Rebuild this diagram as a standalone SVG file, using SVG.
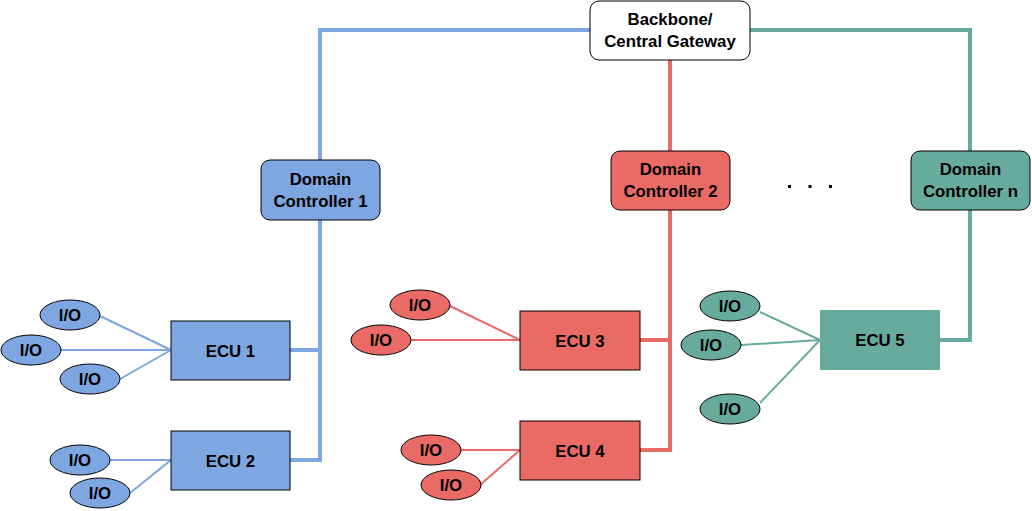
<svg xmlns="http://www.w3.org/2000/svg" width="1032" height="511" viewBox="0 0 1032 511">
<style>
text{font-family:"Liberation Sans",Arial,sans-serif;font-weight:bold;font-size:16.8px;fill:#000;text-anchor:middle}
.b{fill:#7EA6E0}.r{fill:#EA6B66}.g{fill:#67AB9F}
.k{stroke:#000;stroke-width:1}
.lb{stroke:#7EA6E0;fill:none}.lr{stroke:#EA6B66;fill:none}.lg{stroke:#67AB9F;fill:none}
.w4{stroke-width:4}.w2{stroke-width:2}
</style>
<rect width="1032" height="511" fill="#fff"/>
<g id="connectors">
<path class="lb w4" d="M590 30H320V160M320 220V460H290M290 350H320"/>
<path class="lr w4" d="M670 60V151M670 210V450H640M640 340H670"/>
<path class="lg w4" d="M750 30H970V151M970 210V340H940"/>
<path class="lb w2" d="M100 316L171 350M61 350H171M120 379L171 350M110 460H171M130 493L171 460"/>
<path class="lr w2" d="M450 306L520 340M411 340H520M461 450H520M480 485L520 450"/>
<path class="lg w2" d="M760 312L820 340M741 345L820 340M760 403L820 340"/>
</g>
<g id="backbone"><rect x="590" y="1" width="160" height="59" rx="9" fill="#fff" class="k"/><text x="670" y="25">Backbone/</text><text x="670" y="47">Central Gateway</text></g>
<g id="dc1"><rect x="261" y="160" width="119" height="60" rx="9" class="b k"/><text x="320.5" y="185">Domain</text><text x="320.5" y="207">Controller 1</text></g>
<g id="dc2"><rect x="611" y="151" width="119" height="59" rx="9" class="r k"/><text x="670.5" y="175">Domain</text><text x="670.5" y="197">Controller 2</text></g>
<g id="dcn"><rect x="911" y="151" width="119" height="59" rx="9" class="g k"/><text x="970.5" y="175">Domain</text><text x="970.5" y="197">Controller n</text></g>
<g id="dots"><rect x="788" y="185" width="3" height="3"/><rect x="808.5" y="185" width="3" height="3"/><rect x="829" y="185" width="3" height="3"/></g>
<g id="ecu1"><rect x="171" y="321" width="119" height="59" class="b k"/><text x="230.5" y="356.5">ECU 1</text></g>
<g id="ecu2"><rect x="171" y="431" width="119" height="59" class="b k"/><text x="230.5" y="466.5">ECU 2</text></g>
<g id="ecu3"><rect x="520" y="311" width="120" height="59" class="r k"/><text x="580" y="346.5">ECU 3</text></g>
<g id="ecu4"><rect x="520" y="421" width="120" height="59" class="r k"/><text x="580" y="456.5">ECU 4</text></g>
<g id="ecu5"><rect x="820" y="310" width="120" height="60" class="g"/><text x="880" y="346">ECU 5</text></g>
<g id="io1"><ellipse cx="70" cy="315" rx="30" ry="15" class="b k"/><text x="70" y="321">I/O</text></g>
<g id="io2"><ellipse cx="31" cy="350" rx="30" ry="15" class="b k"/><text x="31" y="356">I/O</text></g>
<g id="io3"><ellipse cx="90" cy="379" rx="30" ry="15" class="b k"/><text x="90" y="385">I/O</text></g>
<g id="io4"><ellipse cx="80" cy="460" rx="30" ry="15" class="b k"/><text x="80" y="466">I/O</text></g>
<g id="io5"><ellipse cx="100" cy="493" rx="30" ry="15" class="b k"/><text x="100" y="499">I/O</text></g>
<g id="io6"><ellipse cx="420" cy="305" rx="30" ry="15" class="r k"/><text x="420" y="311">I/O</text></g>
<g id="io7"><ellipse cx="381" cy="340" rx="30" ry="15" class="r k"/><text x="381" y="346">I/O</text></g>
<g id="io8"><ellipse cx="431" cy="450" rx="30" ry="15" class="r k"/><text x="431" y="456">I/O</text></g>
<g id="io9"><ellipse cx="451" cy="485" rx="30" ry="15" class="r k"/><text x="451" y="491">I/O</text></g>
<g id="io10"><ellipse cx="730" cy="306" rx="30" ry="15" class="g k"/><text x="730" y="312">I/O</text></g>
<g id="io11"><ellipse cx="711" cy="345" rx="30" ry="15" class="g k"/><text x="711" y="351">I/O</text></g>
<g id="io12"><ellipse cx="730" cy="409" rx="30" ry="15" class="g k"/><text x="730" y="415">I/O</text></g>
</svg>
